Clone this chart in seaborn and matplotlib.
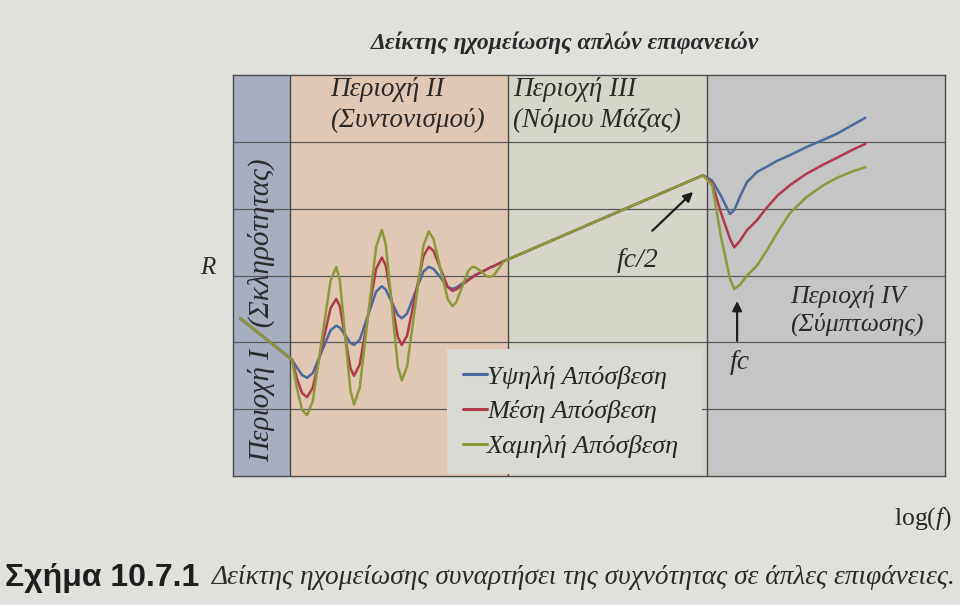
import matplotlib
matplotlib.use("Agg")
import matplotlib.pyplot as plt
import seaborn as sns
import pandas as pd

sns.set_theme(style="white")
plt.rcParams["font.family"] = ["Liberation Serif", "DejaVu Serif"]
plt.rcParams["mathtext.fontset"] = "custom"
plt.rcParams["mathtext.rm"] = "Liberation Serif"
plt.rcParams["mathtext.it"] = "Liberation Serif:italic"

# log(f) positions (arbitrary units across the frame, 0-100)
freq = [1.0, 8.3, 9.0, 9.7, 10.4,
        11.2, 12.45, 13.7, 14.5,
        15.0, 15.75, 16.5, 17.0,
        17.8, 18.95, 20.1, 20.9,
        21.45, 22.3, 23.15, 23.7,
        24.45, 25.6, 26.75, 27.5,
        28.15, 29.15, 30.15, 30.8,
        31.35, 32.2, 33.05, 33.6,
        34.1, 34.85, 35.6, 36.1,
        36.6, 37.35, 38.1, 38.6,
        66.0, 67.3, 68.5, 69.8, 70.4, 71.2, 72.2, 73.6, 75.0, 76.5, 78.2,
        80.5, 82.9, 84.8, 86.8, 88.8]

# sound reduction index R (arbitrary units, 0-6)
r_high = [2.36, 1.74, 1.62, 1.51, 1.47,
          1.54, 1.86, 2.18, 2.25,
          2.22, 2.11, 1.99, 1.96,
          2.04, 2.40, 2.76, 2.84,
          2.79, 2.60, 2.41, 2.36,
          2.43, 2.75, 3.06, 3.13,
          3.10, 2.97, 2.83, 2.80,
          2.82, 2.88, 2.94, 2.98,
          3.01, 3.05, 3.09, 3.12,
          3.14, 3.18, 3.22, 3.24,
          4.50, 4.42, 4.20, 3.92, 3.98, 4.18, 4.40, 4.55, 4.63, 4.72, 4.80,
          4.92, 5.03, 5.12, 5.24, 5.36]
r_mid = [2.36, 1.74, 1.45, 1.24, 1.18,
         1.32, 1.92, 2.51, 2.65,
         2.54, 2.08, 1.61, 1.50,
         1.67, 2.39, 3.10, 3.27,
         3.15, 2.62, 2.08, 1.96,
         2.10, 2.70, 3.29, 3.43,
         3.37, 3.10, 2.83, 2.77,
         2.79, 2.86, 2.93, 2.97,
         3.01, 3.05, 3.09, 3.12,
         3.14, 3.18, 3.22, 3.24,
         4.50, 4.38, 3.95, 3.55, 3.42, 3.52, 3.68, 3.83, 4.02, 4.20, 4.35,
         4.52, 4.66, 4.76, 4.87, 4.97]
r_low = [2.36, 1.74, 1.30, 0.99, 0.91,
         1.12, 2.02, 2.92, 3.13,
         2.93, 2.10, 1.27, 1.07,
         1.32, 2.38, 3.43, 3.68,
         3.47, 2.56, 1.64, 1.43,
         1.64, 2.55, 3.45, 3.66,
         3.55, 3.10, 2.65, 2.54,
         2.60, 2.84, 3.07, 3.13,
         3.12, 3.06, 2.99, 2.98,
         3.00, 3.11, 3.22, 3.24,
         4.50, 4.35, 3.60, 2.95, 2.80, 2.86, 3.00, 3.15, 3.38, 3.65, 3.93,
         4.17, 4.35, 4.46, 4.55, 4.62]

labels = ["Υψηλή Απόσβεση", "Μέση Απόσβεση", "Χαμηλή Απόσβεση"]
colors = ["#4a6a9c", "#b03a4c", "#8a9a3a"]

# region limits along log(f)
region_edges = [0, 8.0, 38.6, 66.6, 100]
region_colors = ["#a7aec0", "#e0c8b5", "#d5d6c9", "#c4c5c4"]

df = pd.DataFrame({"f": freq, labels[0]: r_high, labels[1]: r_mid, labels[2]: r_low})
long = df.melt(id_vars="f", var_name="damping", value_name="R")

fig = plt.figure(figsize=(9.6, 6.05), dpi=100, facecolor="#e0e0dc")
ax = fig.add_axes([0.2427, 0.2132, 0.7417, 0.6628])

for x0, x1, c in zip(region_edges[:-1], region_edges[1:], region_colors):
    ax.axvspan(x0, x1, color=c, lw=0, zorder=0)
for y in range(1, 6):
    ax.axhline(y, color="#5a5a5a", lw=0.9, zorder=1)
for x in region_edges[1:-1]:
    ax.axvline(x, color="#4a4a4a", lw=1.0, zorder=1)

sns.lineplot(data=long, x="f", y="R", hue="damping", hue_order=labels,
             palette=colors, lw=1.8, ax=ax, zorder=3, legend=True)

ax.set_xlim(0, 100)
ax.set_ylim(0, 6)
ax.set_xticks([])
ax.set_yticks([])
ax.set_xlabel("")
ax.set_ylabel("")
for s in ax.spines.values():
    s.set_color("#4a4a4a")
    s.set_linewidth(1.0)

leg = ax.legend(loc="lower left", bbox_to_anchor=(0.301, 0.006, 0.358, 0.325),
                mode="expand", borderaxespad=0, frameon=True, facecolor="#dadad5",
                edgecolor="none", framealpha=1, fancybox=False, handlelength=0.9,
                handletextpad=0.0, labelspacing=0.42, borderpad=0.6,
                prop={"family": "Liberation Serif", "style": "italic", "size": 19})
leg.set_zorder(5)
for h in leg.get_lines():
    h.set_linewidth(2.2)

tx = dict(family="Liberation Serif", style="italic", color="#2a2a2a")
ax.text(13.6, 5.97, "Περιοχή II\n(Συντονισμού)", va="top", ha="left",
        fontsize=19.5, linespacing=1.3, **tx)
ax.text(39.3, 5.97, "Περιοχή III\n(Νόμου Μάζας)", va="top", ha="left",
        fontsize=19.5, linespacing=1.3, **tx)
ax.text(78.3, 2.47, "Περιοχή IV\n(Σύμπτωσης)", va="center", ha="left",
        fontsize=18.5, linespacing=1.25, **tx)
ax.text(4.0, 2.48, "Περιοχή I   (Σκληρότητας)", rotation=90, va="center",
        ha="center", fontsize=21, **tx)
ax.text(-3.6, 3.11, "R", va="center", ha="center", fontsize=18, clip_on=False, **tx)

ax.annotate("", xy=(64.9, 4.28), xytext=(58.6, 3.64),
            arrowprops=dict(arrowstyle="-|>", color="#1e1e1e", lw=1.6,
                            mutation_scale=14))
ax.text(56.8, 3.22, "fc/2", va="center", ha="center", fontsize=20, **tx)
ax.annotate("", xy=(70.8, 2.66), xytext=(70.8, 1.98),
            arrowprops=dict(arrowstyle="-|>", color="#1e1e1e", lw=1.6,
                            mutation_scale=14))
ax.text(71.2, 1.70, "fc", va="center", ha="center", fontsize=20, **tx)

fig.text(0.588, 0.93, "Δείκτης ηχομείωσης απλών επιφανειών", ha="center",
         va="center", fontsize=17, weight="bold", **tx)
fig.text(0.992, 0.143, r"log($\mathit{f}$)", ha="right", va="center",
         fontsize=18.5, color="#2a2a2a")
fig.text(0.005, 0.045, "Σχήμα 10.7.1", ha="left", va="center", fontsize=23,
         weight="bold", family="Liberation Sans", color="#1e1e1e")
fig.text(0.221, 0.045, "Δείκτης ηχομείωσης συναρτήσει της συχνότητας σε άπλες επιφάνειες.",
         ha="left", va="center", fontsize=19.7, **tx)

fig.savefig("out.png", dpi=100, facecolor=fig.get_facecolor())
